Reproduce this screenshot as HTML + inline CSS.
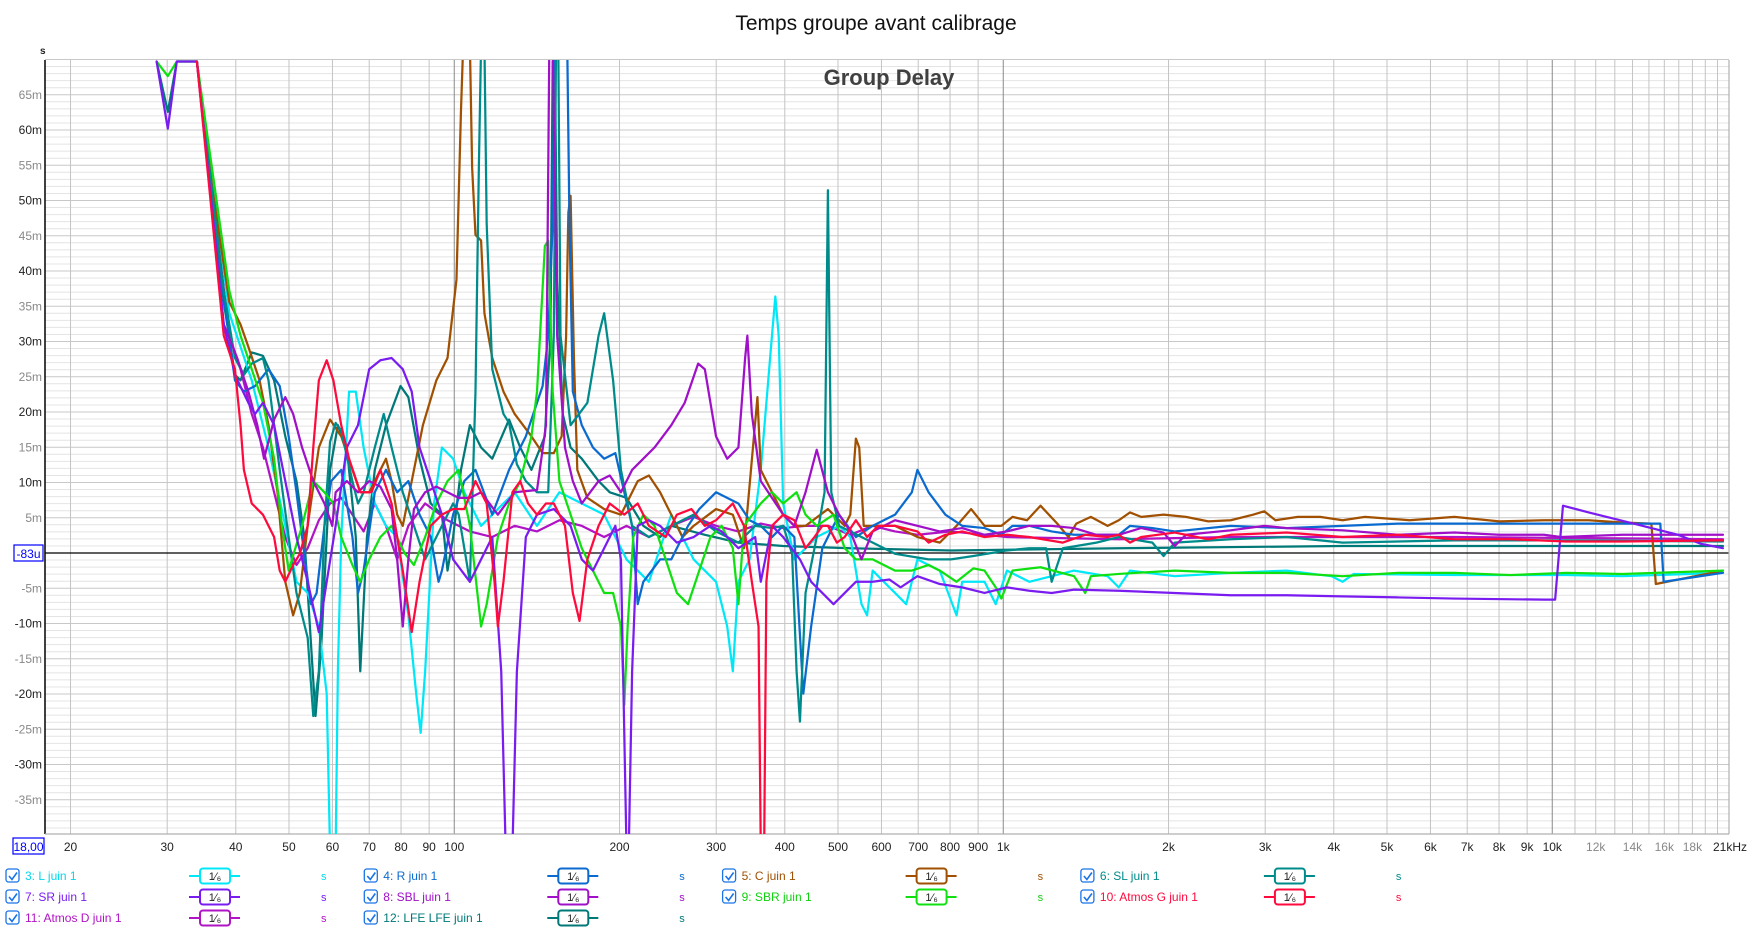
<!DOCTYPE html>
<html><head><meta charset="utf-8"><style>
html,body{margin:0;padding:0;background:#fff;}
svg{display:block;font-family:"Liberation Sans",sans-serif;}
</style></head><body>
<svg width="1751" height="928" viewBox="0 0 1751 928" xmlns="http://www.w3.org/2000/svg">
<defs><clipPath id="pc"><rect x="45" y="60" width="1684" height="774"/></clipPath></defs>
<rect width="1751" height="928" fill="#fff"/>
<text x="876" y="30" font-size="21" text-anchor="middle" fill="#111">Temps groupe avant calibrage</text>
<text x="40" y="54" font-size="10" fill="#222" font-weight="bold">s</text>
<g id="hgrid" stroke="#e2e2e2" stroke-width="1"></g>
<g id="vgrid" stroke-width="1"></g>
<line x1="45" y1="553" x2="1729" y2="553" stroke="#000" stroke-width="1.3"/>
<line x1="45" y1="60" x2="45" y2="834" stroke="#000" stroke-width="1.5"/>
<line x1="45" y1="834" x2="1729" y2="834" stroke="#b0b0b0" stroke-width="1.2"/>
<line x1="1729" y1="60" x2="1729" y2="834" stroke="#b0b0b0" stroke-width="1.2"/>
<g id="ylab" font-size="12" text-anchor="end"></g>
<g id="xlab" font-size="12" text-anchor="middle" fill="#222"></g>
<rect x="13" y="838" width="31" height="16" fill="#fff" stroke="#0000ff" stroke-width="1.2"/>
<text x="28.5" y="851" font-size="12" text-anchor="middle" fill="#0000ff">18,00</text>
<rect x="14" y="545" width="29" height="16" fill="#fff" stroke="#0000ff" stroke-width="1.2"/>
<text x="28.5" y="558" font-size="12" text-anchor="middle" fill="#0000ff">-83u</text>
<text x="889" y="85" font-size="22" font-weight="bold" text-anchor="middle" fill="#404040">Group Delay</text>
<g clip-path="url(#pc)"><g id="curves" transform="scale(1.1188)" fill="none" stroke-width="2" stroke-linejoin="round" stroke-linecap="round">
<polyline stroke="#b014c4" points="176,55 205,300 215,330 225,370 235,400 245,440 255,480 265,505 275,490 285,465 295,450 305,445 315,460 325,475 335,450 345,470 355,500 365,470 380,450 400,465 420,475 440,480 460,470 480,475 500,465 520,470 540,480 560,470 580,480 600,470 620,462 640,470 660,475 680,468 700,472 720,470 740,470 760,478 780,470 800,475 820,478 850,475 900,480 1000,482 1100,480 1300,480 1540,482"/>
<polyline stroke="#007878" points="140,55 150,100 158,55 176,55 200,270 210,335 215,340 225,315 235,318 245,340 255,390 265,430 272,480 282,640 287,580 295,420 302,380 310,400 318,480 322,600 328,480 335,420 345,380 358,345 365,355 375,410 385,450 395,460 400,510 405,480 412,420 420,380 430,400 440,410 455,375 465,400 475,420 487,390 492,300 494,55 496,55 498,250 503,370 510,400 520,410 535,430 545,440 560,445 575,470 590,480 600,470 630,478 660,485 700,488 760,490 850,492 1000,490 1200,488 1540,488"/>
<polyline stroke="#00e8f8" points="176,55 205,280 215,310 225,340 240,400 255,470 265,520 275,530 285,560 292,620 295,760 300,760 302,600 305,480 312,350 318,350 325,400 335,450 345,470 355,480 365,550 372,620 376,655 380,600 388,450 395,400 405,410 415,440 430,470 440,460 460,440 480,470 500,440 520,450 540,460 560,500 580,520 600,460 620,500 640,520 650,560 655,600 660,520 670,500 680,420 690,300 693,265 696,300 700,450 710,500 730,480 750,470 760,480 770,540 775,550 780,510 790,520 800,530 810,540 820,500 840,510 855,550 860,520 880,520 890,540 900,510 920,520 960,510 990,515 1000,525 1010,510 1050,515 1100,512 1150,510 1190,515 1200,520 1210,513 1300,514 1400,514 1450,515 1540,512"/>
<polyline stroke="#a05000" points="176,55 190,170 205,270 215,290 222,310 232,340 240,380 248,440 255,520 262,550 268,530 275,470 285,400 295,375 305,390 315,420 322,440 330,440 340,420 345,410 350,430 355,460 360,470 368,430 378,380 390,340 400,320 408,250 412,100 414,40 420,40 422,150 425,210 430,215 433,280 440,320 450,350 460,370 475,390 485,405 495,405 502,390 506,300 508,190 510,175 513,320 516,420 525,445 540,455 555,460 570,430 580,425 590,440 600,460 610,480 620,470 640,455 655,460 665,490 673,400 677,355 680,420 690,440 700,460 710,470 720,470 740,455 755,470 760,460 765,392 768,400 772,470 776,470 800,470 820,480 840,485 855,470 868,455 880,470 895,470 905,462 918,465 930,452 945,468 955,480 962,468 975,462 990,470 1000,465 1010,458 1020,462 1040,460 1060,462 1080,466 1100,465 1120,460 1130,457 1140,465 1160,462 1180,462 1200,465 1220,462 1260,465 1300,462 1340,466 1380,465 1420,465 1450,467 1476,468 1480,522 1500,518 1540,510"/>
<polyline stroke="#0a6ad0" points="176,55 200,265 210,340 218,350 228,345 240,330 250,345 258,390 265,440 270,480 278,540 283,530 290,470 296,430 305,420 315,480 320,530 325,510 335,440 345,420 355,440 365,430 375,460 385,480 392,520 395,510 405,460 415,430 425,420 440,460 455,420 470,390 485,345 490,300 494,200 496,40 500,40 503,40 507,40 509,200 512,350 520,380 530,400 540,410 550,405 558,440 565,470 570,540 575,520 590,500 600,500 615,470 625,455 640,440 650,445 660,450 670,465 680,470 690,480 700,470 710,480 718,620 725,560 735,490 750,460 765,480 780,470 800,460 815,440 820,420 830,440 845,460 860,470 880,472 895,478 905,470 920,470 940,475 960,478 980,478 1000,478 1010,470 1030,472 1050,475 1100,470 1150,472 1200,470 1250,468 1300,468 1400,468 1484,468 1487,520 1540,512"/>
<polyline stroke="#008b8b" points="176,55 200,260 210,320 218,335 225,325 235,320 240,340 250,420 258,480 265,530 275,570 280,640 285,600 290,470 295,395 300,378 305,385 315,430 320,450 325,440 335,400 343,370 350,400 360,440 370,470 380,500 390,480 400,460 405,450 410,460 420,520 425,350 428,150 430,40 433,40 435,200 440,330 450,370 455,378 462,415 470,430 480,440 490,440 495,300 497,40 499,40 501,300 510,380 525,360 535,300 540,280 548,340 555,420 565,470 580,480 600,470 620,460 640,475 660,485 675,470 690,472 700,470 708,495 712,600 715,645 720,530 730,480 737,440 740,170 743,440 750,470 770,480 800,495 830,500 850,500 870,497 900,492 920,490 935,490 940,520 950,490 980,485 1000,480 1030,485 1040,497 1050,485 1100,482 1150,480 1200,485 1300,483 1400,483 1540,484"/>
<polyline stroke="#10e010" points="140,55 150,68 158,55 176,55 205,260 215,300 225,330 235,360 245,410 252,470 258,510 264,490 270,470 280,430 290,440 298,450 305,480 315,505 322,520 330,500 340,480 350,470 362,495 370,505 380,480 390,450 400,430 410,420 420,470 430,560 435,540 445,480 455,450 465,430 475,390 480,350 487,220 490,215 494,350 500,430 510,460 520,490 530,510 540,530 548,530 555,560 558,630 561,560 566,480 575,460 585,470 595,500 605,530 615,540 625,510 635,480 645,470 655,490 660,540 665,470 680,450 690,440 700,450 712,440 720,460 730,470 745,460 755,490 765,500 780,500 800,510 815,510 830,505 840,510 855,520 870,508 880,510 890,525 895,535 905,510 930,507 960,515 970,530 975,515 1000,513 1050,510 1100,512 1150,512 1200,515 1250,512 1300,512 1350,514 1400,512 1450,513 1540,510"/>
<polyline stroke="#a010c8" points="176,55 200,290 212,320 222,350 230,380 236,410 245,375 255,355 262,370 270,400 280,430 290,450 297,470 300,440 310,430 320,440 330,430 340,435 350,455 355,500 360,560 365,500 370,455 380,440 390,435 400,440 410,445 420,445 430,440 445,460 460,440 480,438 488,380 491,40 494,40 498,300 505,400 512,430 520,450 535,430 545,425 555,440 565,420 575,410 585,400 600,380 612,360 624,325 630,330 640,390 650,410 660,400 666,320 668,300 672,370 680,430 690,445 700,460 710,470 720,440 730,402 740,440 750,460 760,475 770,500 780,475 790,470 800,465 820,470 840,475 860,472 880,478 900,475 920,470 940,470 960,472 980,478 1000,478 1020,472 1040,476 1050,488 1060,478 1100,474 1130,470 1150,472 1200,474 1250,478 1300,476 1340,478 1380,478 1395,480 1450,478 1540,478"/>
<polyline stroke="#7a1cf0" points="140,55 150,115 158,55 176,55 200,290 210,335 222,360 228,370 235,360 245,380 255,430 265,480 275,520 285,565 292,520 300,470 310,400 320,380 330,330 340,322 350,320 360,330 368,350 375,400 385,430 395,460 405,500 420,520 440,480 448,600 452,760 458,760 462,600 470,480 480,460 495,455 510,470 520,500 530,510 540,490 550,470 555,500 560,760 562,760 565,600 570,470 580,465 590,470 605,485 620,480 635,470 645,475 660,490 675,480 680,520 690,470 700,480 715,500 725,520 735,530 745,540 765,520 780,520 795,518 805,525 820,515 840,522 860,525 880,530 900,525 920,528 940,530 960,527 1000,528 1050,530 1100,532 1150,532 1200,533 1250,534 1300,535 1380,536 1390,536 1397,452 1420,458 1460,468 1500,478 1520,486 1540,490"/>
<polyline stroke="#ff0a3c" points="176,55 200,300 210,330 215,380 218,420 225,450 235,460 245,480 250,510 255,520 262,505 268,495 275,470 280,400 285,340 292,322 298,340 305,380 312,410 322,440 332,440 340,420 350,450 360,510 368,565 375,520 385,470 395,460 405,455 415,455 425,430 435,450 442,520 445,560 450,520 458,440 465,430 472,450 480,460 488,450 495,450 505,470 512,530 518,555 525,500 535,470 545,450 558,460 570,450 580,470 595,480 605,460 618,455 630,470 640,465 655,450 665,470 672,520 678,560 680,760 683,760 685,520 690,470 700,460 710,465 720,490 728,480 735,470 740,470 748,485 755,480 765,465 775,480 785,470 800,470 820,475 830,485 845,478 860,475 880,480 900,478 920,480 950,485 970,478 990,480 1000,478 1010,485 1020,480 1050,476 1080,482 1100,478 1150,476 1200,480 1250,478 1300,482 1350,482 1400,484 1450,484 1540,483"/>
</g></g>
<g id="legend" font-size="12"></g>
<script>
(function(){
var ns="http://www.w3.org/2000/svg";
function el(t,a,p,txt){var e=document.createElementNS(ns,t);for(var k in a)e.setAttribute(k,a[k]);if(txt!=null)e.textContent=txt;p.appendChild(e);return e;}
var Y=function(m){return 553-7.05*m;};
var hg=document.getElementById('hgrid');
for(var m=-39;m<=70;m++){var y=Y(m);el('line',{x1:45,x2:1729,y1:y,y2:y,stroke:(m%5==0)?'#c8c8c8':'#e4e4e4'},hg);}
var yl=document.getElementById('ylab');
for(var m=-35;m<=65;m+=5){if(m==0)continue;el('text',{x:42,y:Y(m)+4,fill:(m%10==0)?'#222':'#888'},yl,m+'m');}
var X=function(f){return 45.4+549*Math.log(f/18)/Math.LN10;};
var vg=document.getElementById('vgrid');
var fs=[];
for(var f=20;f<=100;f+=10)fs.push(f);
for(var f=200;f<=1000;f+=100)fs.push(f);
for(var f=2000;f<=10000;f+=1000)fs.push(f);
for(var f=11000;f<=20000;f+=1000)fs.push(f);
fs.forEach(function(f){var dec=(f==100||f==1000||f==10000);el('line',{x1:X(f),x2:X(f),y1:60,y2:834,stroke:dec?'#8a8a8a':'#c4c4c4'},vg);});
var xl=document.getElementById('xlab');
var labs=[[20,'20'],[30,'30'],[40,'40'],[50,'50'],[60,'60'],[70,'70'],[80,'80'],[90,'90'],[100,'100'],[200,'200'],[300,'300'],[400,'400'],[500,'500'],[600,'600'],[700,'700'],[800,'800'],[900,'900'],[1000,'1k'],[2000,'2k'],[3000,'3k'],[4000,'4k'],[5000,'5k'],[6000,'6k'],[7000,'7k'],[8000,'8k'],[9000,'9k'],[10000,'10k'],[12000,'12k',1],[14000,'14k',1],[16000,'16k',1],[18000,'18k',1]];
labs.forEach(function(l){var a={x:X(l[0]),y:851};if(l[2])a.fill='#888';el('text',a,xl,l[1]);});
el('text',{x:1730,y:851},xl,'21kHz');
var lg=document.getElementById('legend');
var items=[[0,0,'3: L juin 1','#00d8ec','#00e8f8'],[1,0,'4: R juin 1','#0a6ad0','#0a6ad0'],[2,0,'5: C juin 1','#a05000','#a05000'],[3,0,'6: SL juin 1','#008b8b','#008b8b'],
[0,1,'7: SR juin 1','#7a1cf0','#7a1cf0'],[1,1,'8: SBL juin 1','#a010c8','#a010c8'],[2,1,'9: SBR juin 1','#10d010','#10e010'],[3,1,'10: Atmos G juin 1','#ff0a3c','#ff0a3c'],
[0,2,'11: Atmos D juin 1','#b014c4','#b014c4'],[1,2,'12: LFE LFE juin 1','#007878','#007878']];
items.forEach(function(it){var cx=6+it[0]*358.3,cy=876+it[1]*21;
el('rect',{x:cx,y:cy-7,width:13,height:13,rx:2.5,fill:'#fff',stroke:'#1a73e8','stroke-width':1.3},lg);
el('path',{d:'M'+(cx+3)+' '+(cy)+' l3 3.5 l5 -7',fill:'none',stroke:'#1a73e8','stroke-width':1.6},lg);
el('text',{x:cx+19,y:cy+4,fill:it[3]},lg,it[2]);
el('line',{x1:cx+183,x2:cx+234,y1:cy,y2:cy,stroke:it[4],'stroke-width':2},lg);
el('rect',{x:cx+194,y:cy-7.5,width:30,height:15,rx:3,fill:'#fff',stroke:it[4],'stroke-width':2},lg);
el('text',{x:cx+209,y:cy+4,'text-anchor':'middle',fill:'#222','font-size':11},lg,'1\u2044\u2086');
el('text',{x:cx+315,y:cy+4,fill:it[3],'font-size':11},lg,'s');
});
})();
</script>
</svg>
</body></html>
